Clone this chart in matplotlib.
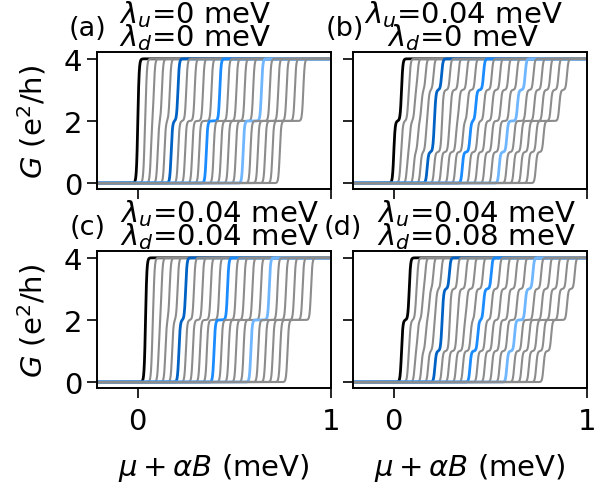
import numpy as np
import matplotlib
matplotlib.use('Agg')
import matplotlib.pyplot as plt

# ---------------- data ----------------
# threshold of the lower / upper pair of levels for each curve (meV), no coupling
lower_pair = [0.000, 0.034, 0.068, 0.103, 0.138, 0.173, 0.209, 0.245, 0.282, 0.318, 0.355,
              0.393, 0.431, 0.469, 0.508, 0.546, 0.584, 0.622, 0.660, 0.698, 0.736]
upper_pair = [0.000, 0.042, 0.083, 0.125, 0.166, 0.208, 0.251, 0.295, 0.338, 0.382, 0.425,
              0.468, 0.511, 0.554, 0.598, 0.641, 0.684, 0.728, 0.771, 0.814, 0.858]
# couplings of each panel (meV)
lam_u = [0.0, 0.04, 0.04, 0.04]
lam_d = [0.0, 0.0, 0.04, 0.08]
lam_u_txt = ['0', '0.04', '0.04', '0.04']
lam_d_txt = ['0', '0', '0.04', '0.08']
panel_tags = ['(a)', '(b)', '(c)', '(d)']
xticks = [0, 1]
yticks = [0, 2, 4]

highlight = {0: 'k', 5: '#0062c4', 10: '#1a8cff', 15: '#6fb6ff'}
gray = '#8c8c8c'

plt.rcParams['font.size'] = 21
plt.rcParams['mathtext.fontset'] = 'dejavusans'


def conductance(x, steps, width=0.0035):
    # each level adds one conductance quantum, smeared a little
    g = np.zeros_like(x)
    for s in steps:
        g += 1.0 / (1.0 + np.exp(-(x - s) / width))
    return g


def plotPanel(ax, k):
    x = np.linspace(-0.3, 1.1, 3000)
    for i in range(len(lower_pair)):
        lo, up = lower_pair[i], upper_pair[i]
        steps = [lo + lam_d[k], lo + lam_u[k], up + lam_d[k], up + lam_u[k]]
        col = highlight.get(i, gray)
        lw = 2.0 if i in highlight else 1.5
        ax.plot(x, conductance(x, steps), color=col, lw=lw)
    ax.set_xlim(-0.21, 1)
    ax.set_ylim(-0.19, 4.21)
    ax.set_xticks(xticks)
    ax.set_yticks(yticks)
    ax.tick_params(length=7, width=1.2, pad=4)
    ax.tick_params(axis='x', pad=7)
    for sp in ax.spines.values():
        sp.set_linewidth(1.4)
    return


fig = plt.figure(figsize=(6.13, 4.85), dpi=100)
W, H = 613.0, 485.0
lefts = [97.3, 353.3, 97.3, 353.3]
tops = [53.3, 53.3, 252.3, 252.3]
aw, ah = 233.4, 136.7
title_cx = [195, 463, 219, 476]
tag_cx = [88, 345, 88, 343]

axs = []
for k in range(4):
    ax = fig.add_axes([lefts[k] / W, 1 - (tops[k] + ah) / H, aw / W, ah / H])
    plotPanel(ax, k)
    axs.append(ax)
    top = tops[k]
    fig.text(title_cx[k] / W, 1 - (top - 30.5) / H, r'$\lambda_u$=' + lam_u_txt[k] + ' meV',
             ha='center', va='baseline')
    fig.text(title_cx[k] / W, 1 - (top - 7) / H, r'$\lambda_d$=' + lam_d_txt[k] + ' meV',
             ha='center', va='baseline')
    fig.text(tag_cx[k] / W, 1 - (top - 17) / H, panel_tags[k], ha='center', va='baseline',
             fontsize=19.5)

for ax in axs[:2]:
    ax.set_xticklabels([])
for ax in [axs[1], axs[3]]:
    ax.set_yticklabels([])
for ax in [axs[0], axs[2]]:
    ax.set_ylabel(r'$G$ (e$^2$/h)', labelpad=11)
for ax in axs[2:]:
    ax.set_xlabel(r'$\mu+\alpha B$ (meV)', labelpad=11)

fig.savefig('out.png', dpi=100)
